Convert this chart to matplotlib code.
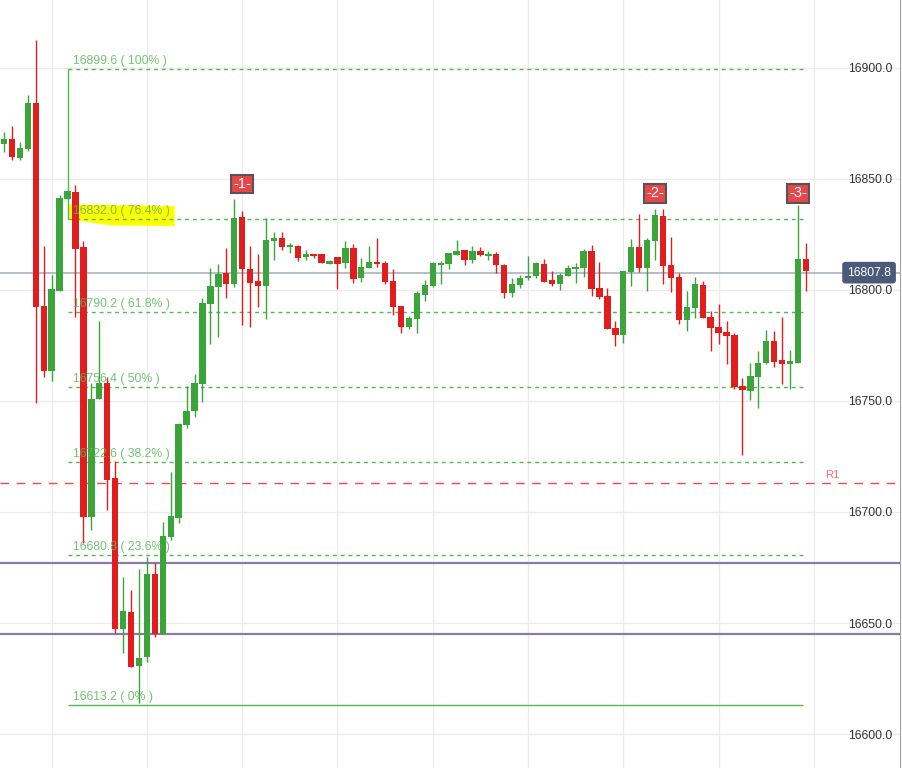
import matplotlib.pyplot as plt
from matplotlib.patches import Rectangle, Polygon

plt.rcParams['font.family'] = ['Liberation Sans', 'DejaVu Sans']

# OHLC, one entry per candle
opens = [16865.9, 16868.0, 16859.6, 16863.6, 16884.2, 16792.8, 16763.6, 16799.7, 16841.1, 16844.1,
         16819.2, 16697.9, 16750.8, 16758.2, 16715.3, 16647.4, 16654.9, 16630.7, 16634.8, 16672.0,
         16645.0, 16688.9, 16697.3, 16739.2, 16745.6, 16757.8, 16793.8, 16801.3, 16807.6, 16802.8,
         16832.9, 16809.6, 16804.2, 16801.8, 16822.2, 16823.4, 16819.5, 16819.8, 16815.0, 16816.2,
         16816.2, 16811.8, 16814.9, 16812.3, 16818.9, 16805.5, 16809.9, 16812.6, 16812.2, 16804.0,
         16792.8, 16783.5, 16787.1, 16797.9, 16801.8, 16811.4, 16811.8, 16815.9, 16818.0, 16813.6,
         16817.6, 16815.3, 16816.2, 16811.3, 16798.6, 16802.2, 16805.4, 16806.3, 16811.7, 16804.5,
         16802.7, 16806.3, 16809.4, 16809.9, 16817.6, 16800.9, 16797.3, 16782.9, 16779.7, 16808.2,
         16819.4, 16810.0, 16822.2, 16833.3, 16811.3, 16805.8, 16786.6, 16792.0, 16802.2, 16787.8,
         16783.3, 16781.0, 16779.7, 16756.7, 16754.6, 16761.0, 16767.1, 16777.0, 16768.5, 16766.8,
         16767.2, 16814.0]
highs = [16871.2, 16873.9, 16866.7, 16887.8, 16912.6, 16819.8, 16806.7, 16842.8, 16845.0, 16847.2,
         16821.9, 16757.9, 16786.0, 16761.0, 16722.9, 16670.8, 16664.8, 16674.2, 16679.6, 16676.9,
         16695.6, 16718.2, 16740.2, 16756.7, 16762.0, 16796.4, 16809.9, 16811.7, 16818.9, 16841.0,
         16835.6, 16819.8, 16816.2, 16832.3, 16826.1, 16826.1, 16821.3, 16820.3, 16818.0, 16816.2,
         16816.2, 16813.5, 16814.9, 16822.2, 16820.7, 16814.4, 16819.8, 16823.4, 16813.1, 16809.4,
         16792.8, 16788.3, 16799.5, 16804.5, 16812.6, 16813.1, 16816.7, 16822.5, 16818.0, 16819.8,
         16819.4, 16817.6, 16817.1, 16811.7, 16805.4, 16806.7, 16815.3, 16812.6, 16814.0, 16808.5,
         16807.6, 16811.3, 16812.2, 16818.5, 16820.3, 16812.6, 16800.9, 16786.0, 16808.5, 16823.0,
         16834.2, 16823.4, 16836.5, 16836.5, 16823.9, 16807.6, 16799.5, 16805.8, 16804.0, 16790.5,
         16793.7, 16786.0, 16780.6, 16760.3, 16767.1, 16772.5, 16781.9, 16781.5, 16787.8, 16772.9,
         16838.3, 16821.2]
lows = [16862.3, 16858.6, 16858.6, 16862.7, 16749.2, 16760.9, 16759.1, 16799.7, 16841.0, 16788.0,
        16686.1, 16691.9, 16750.8, 16701.1, 16645.6, 16636.3, 16630.3, 16614.1, 16632.5, 16643.5,
        16645.0, 16687.4, 16695.2, 16738.0, 16742.6, 16749.7, 16775.8, 16778.9, 16796.4, 16801.5,
        16784.2, 16783.5, 16792.5, 16787.1, 16813.5, 16818.0, 16816.8, 16813.2, 16813.5, 16814.4,
        16812.3, 16811.8, 16800.3, 16809.9, 16803.3, 16803.7, 16809.9, 16810.5, 16802.7, 16788.9,
        16780.8, 16782.6, 16780.8, 16795.2, 16801.3, 16802.7, 16809.4, 16815.9, 16811.3, 16812.2,
        16815.3, 16813.5, 16807.6, 16796.4, 16796.8, 16800.9, 16804.5, 16805.4, 16803.6, 16801.8,
        16800.0, 16806.3, 16803.1, 16805.8, 16797.3, 16795.9, 16782.6, 16774.9, 16776.2, 16801.9,
        16808.0, 16799.7, 16813.6, 16802.8, 16799.2, 16784.8, 16781.7, 16787.5, 16787.5, 16772.6,
        16775.8, 16766.8, 16755.5, 16725.8, 16750.6, 16747.0, 16766.8, 16765.4, 16757.8, 16755.3,
        16767.2, 16799.7]
closes = [16868.0, 16859.9, 16864.0, 16884.2, 16792.5, 16763.6, 16800.4, 16841.4, 16844.6, 16818.6,
          16697.9, 16750.9, 16757.9, 16714.4, 16647.1, 16655.5, 16630.3, 16634.2, 16672.0, 16645.0,
          16689.2, 16698.4, 16739.6, 16745.5, 16757.9, 16794.1, 16801.8, 16807.2, 16802.8, 16832.3,
          16809.6, 16803.3, 16801.9, 16822.5, 16823.4, 16819.5, 16819.8, 16814.4, 16816.2, 16815.3,
          16812.3, 16813.1, 16811.8, 16818.9, 16805.1, 16810.2, 16812.6, 16811.7, 16803.6, 16792.5,
          16783.5, 16787.4, 16798.6, 16802.2, 16812.2, 16812.2, 16816.7, 16817.6, 16813.6, 16817.6,
          16815.9, 16816.2, 16811.4, 16798.6, 16802.7, 16805.4, 16806.3, 16812.2, 16803.6, 16802.7,
          16806.7, 16809.9, 16810.4, 16817.6, 16800.6, 16796.8, 16782.6, 16779.7, 16808.5, 16819.4,
          16810.0, 16822.5, 16833.8, 16810.9, 16805.5, 16786.6, 16792.3, 16802.7, 16787.5, 16783.0,
          16780.8, 16779.4, 16756.4, 16755.1, 16761.3, 16767.1, 16777.0, 16767.7, 16766.8, 16768.0,
          16814.0, 16808.6]

fib_levels = [16899.6, 16832.0, 16790.2, 16756.4, 16722.6, 16680.8, 16613.2]
fib_pcts = ['100%', '76.4%', '61.8%', '50%', '38.2%', '23.6%', '0%']
fib_start, fib_end = 8, 100.6

y_ticks = [16600.0, 16650.0, 16700.0, 16750.0, 16800.0, 16850.0, 16900.0]
purple_levels = [16677.0, 16645.0]
r1_level = 16713.2
last_price = 16807.8
markers = [(30, 16847.7, '-1-'), (82, 16843.5, '-2-'), (100, 16843.5, '-3-')]

green = '#3ba43b'
red = '#e21d1d'
fib_col = '#4fb84f'

fig = plt.figure(figsize=(9.02, 7.68), dpi=100)
ax = fig.add_axes([0, 0, 900 / 902, 1])
ax.set_xlim(-0.504, 112.85)
ax.set_ylim(16584.7, 16930.6)

# grid
ax.set_xticks(range(6, 103, 12))
ax.set_yticks(y_ticks)
ax.set_yticklabels([f'{v:.1f}' for v in y_ticks])
ax.grid(color='#ebebeb', lw=0.9, zorder=0)
ax.set_axisbelow(True)
ax.yaxis.tick_right()
ax.tick_params(axis='x', length=0, labelbottom=False)
ax.tick_params(axis='y', length=0, pad=-37.4, labelsize=8.7, labelcolor='#333333')
for s in ['top', 'left', 'bottom']:
    ax.spines[s].set_visible(False)
ax.spines['right'].set_color('#a0a0a0')
ax.spines['right'].set_linewidth(0.8)

# horizontal levels
for lvl in purple_levels:
    ax.axhline(lvl, color='#8a7aa6', lw=1.6, zorder=2)
ax.axhline(r1_level, color='#f04a4a', lw=1.0, linestyle=(0, (6.2, 5.4)), zorder=2)
ax.text(104.3, r1_level + 1.2, 'R1', color='#f07070', fontsize=8.2, ha='center', va='bottom', zorder=6)
ax.axhline(last_price, color='#a3abbb', lw=1.1, zorder=2)

# yellow highlight under the 76.4% label
ax.add_patch(Polygon([(8.1, 16838.6), (21.5, 16837.8), (21.5, 16828.8), (13.6, 16829.0),
                      (11.0, 16830.3), (8.9, 16831.6), (8.1, 16831.8)],
                     closed=True, facecolor='#ffff00', edgecolor='none', zorder=2.5))

# fibonacci lines
ax.vlines(fib_start, fib_levels[1], fib_levels[0], color=fib_col, lw=1.0, zorder=3)
for lvl, pct in zip(fib_levels, fib_pcts):
    ls = '-' if pct == '0%' else (0, (2.8, 2.8))
    ax.hlines(lvl, fib_start, fib_end, color=fib_col, lw=1.0, linestyle=ls, zorder=3)

# candles
for i, (o, h, l, c) in enumerate(zip(opens, highs, lows, closes)):
    col = green if c >= o else red
    ax.vlines(i, l, h, color=col, lw=1.0, zorder=4)
    ax.add_patch(Rectangle((i - 0.4, min(o, c)), 0.8, max(abs(c - o), 0.6),
                           facecolor=col, edgecolor='none', zorder=4))

for lvl, pct in zip(fib_levels, fib_pcts):
    ax.text(fib_start + 0.75, lvl + 0.7, f'{lvl:.1f} ( {pct} )', color='#5cb85c', alpha=0.85,
            fontsize=8.8, ha='left', va='bottom', zorder=5)

# numbered markers
for i, p, lab in markers:
    ax.text(i, p, lab, color='white', fontsize=10.5, ha='center', va='center', zorder=6,
            bbox=dict(boxstyle='square,pad=0.16', facecolor='#e8474a', edgecolor='#555555', lw=1.5))

# last price tag
ax.text(0.9656, last_price, f'{last_price:.1f}', transform=ax.get_yaxis_transform(),
        color='white', fontsize=8.7, ha='center', va='center', zorder=7,
        bbox=dict(boxstyle='round,pad=0.4,rounding_size=0.25', facecolor='#4a5a78', edgecolor='none'))

fig.savefig('out.png', dpi=100)
